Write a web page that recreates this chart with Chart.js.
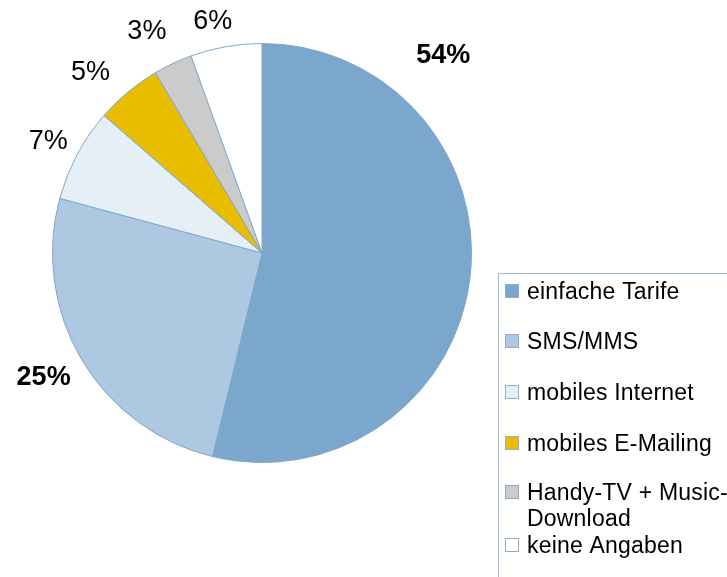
<!DOCTYPE html>
<html>
<head>
<meta charset="utf-8">
<script src="https://cdn.jsdelivr.net/npm/chart.js@4"></script>
<style>
  html, body { margin: 0; padding: 0; background: #fff; }
  #wrap { width: 727px; height: 577px; position: relative; }
</style>
</head>
<body>
<div id="wrap"><canvas id="chart_mobileUsage"></canvas></div>
<script>
// categories and shares (percent)
var categories = ['einfache Tarife', 'SMS/MMS', 'mobiles Internet', 'mobiles E-Mailing', 'Handy-TV + Music-Download', 'keine Angaben'];
var legendLines = [['einfache Tarife'], ['SMS/MMS'], ['mobiles Internet'], ['mobiles E-Mailing'], ['Handy-TV + Music-', 'Download'], ['keine Angaben']];
var shares = [53.8, 25.4, 7.2, 5.1, 3.0, 5.5];
var shareLabels = ['54%', '25%', '7%', '5%', '3%', '6%'];
var sliceColors = ['#7ba7cc', '#adc8e0', '#e6eef6', '#e9bd00', '#cbcbcb', '#ffffff'];

// where each percent label sits: angle from top (deg, clockwise) and distance in radii
var labelPlace = [
    { angle: 42.5, dist: 1.28, bold: true },
    { angle: 240.3, dist: 1.20, bold: true },
    { angle: 297.5, dist: 1.15, bold: false },
    { angle: 316.5, dist: 1.19, bold: false },
    { angle: 332.5, dist: 1.19, bold: false },
    { angle: 348.0, dist: 1.13, bold: false }
];

var chart_mobileUsage = new Chart(document.getElementById('chart_mobileUsage'), {
    type: 'pie',
    data: {
        labels: categories,
        datasets: [{
            data: shares,
            backgroundColor: sliceColors,
            borderColor: '#7fa9cf',
            borderWidth: 1,
            hoverOffset: 0,
            offset: 0
        }]
    },
    options: {
        animation: false,
        responsive: true,
        maintainAspectRatio: false,
        layout: { padding: { left: 52, right: 255, top: 43, bottom: 114 } },
        plugins: {
            legend: { display: false },
            tooltip: { enabled: false },
            title: { display: false }
        }
    },
    plugins: [{
        id: 'customPlugin',
        beforeDraw: (chart) => {
            const ctx = chart.ctx;
            ctx.save();
            ctx.fillStyle = 'white';
            ctx.fillRect(0, 0, chart.width, chart.height);
            ctx.restore();
        },
        afterDraw: (chart) => {
            const ctx = chart.ctx;
            const arcs = chart.getDatasetMeta(0).data;
            const cx = arcs[0].x, cy = arcs[0].y, r = arcs[0].outerRadius;
            ctx.save();
            ctx.fillStyle = '#000';
            ctx.textAlign = 'center';
            ctx.textBaseline = 'middle';
            shareLabels.forEach(function(txt, i) {
                const p = labelPlace[i];
                const a = p.angle * Math.PI / 180;
                ctx.font = (p.bold ? 'bold ' : '') + '27px "Liberation Sans", Arial, sans-serif';
                ctx.fillText(txt, cx + Math.sin(a) * r * p.dist, cy - Math.cos(a) * r * p.dist);
            });

            // legend box (runs off the right and bottom edge)
            ctx.strokeStyle = '#9dbbd8';
            ctx.lineWidth = 1;
            ctx.strokeRect(498.5, 273.5, 240, 320);
            const rowY = [291, 341, 392, 443, 492, 545];
            ctx.textAlign = 'left';
            ctx.font = '23px "Liberation Sans", Arial, sans-serif';
            ctx.letterSpacing = '0.2px';
            legendLines.forEach(function(lines, i) {
                ctx.fillStyle = sliceColors[i];
                ctx.fillRect(505, rowY[i] - 7, 14, 14);
                ctx.strokeStyle = '#8eaecb';
                ctx.strokeRect(505.5, rowY[i] - 6.5, 13, 13);
                ctx.fillStyle = '#000';
                lines.forEach(function(line, j) {
                    ctx.fillText(line, 527, rowY[i] + 1.5 + j * 26);
                });
            });
            ctx.restore();
        }
    }]
});
</script>
</body>
</html>
